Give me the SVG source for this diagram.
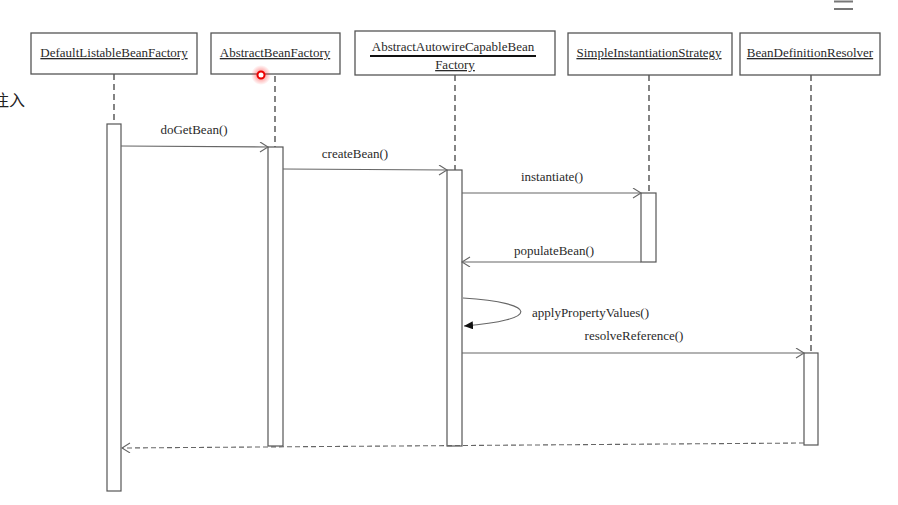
<svg xmlns="http://www.w3.org/2000/svg" width="898" height="505" viewBox="0 0 898 505">
<style>
.box{fill:#fff;stroke:#555;stroke-width:1.3}
.life{stroke:#333;stroke-width:1.2;stroke-dasharray:6 4;fill:none}
.act{fill:#fff;stroke:#555;stroke-width:1.2}
.msg{stroke:#666;stroke-width:1.1;fill:none}
.ret{stroke:#666;stroke-width:1.1;fill:none;stroke-dasharray:5 3}
text{font-family:"Liberation Serif","Times New Roman",serif;font-size:13px;fill:#2a2a2a}
.lbl{text-anchor:middle;text-decoration:underline}
.m{text-anchor:middle}
</style>
<defs>
<marker id="open" markerUnits="userSpaceOnUse" markerWidth="12" markerHeight="12" refX="9" refY="5" orient="auto">
<path d="M1,0 L9,5 L1,10" fill="none" stroke="#666" stroke-width="1.1"/>
</marker>
<marker id="filled" markerUnits="userSpaceOnUse" markerWidth="12" markerHeight="10" refX="9" refY="4" orient="auto">
<path d="M0,0 L9,4 L0,8 z" fill="#111"/>
</marker>
<radialGradient id="glow">
<stop offset="0" stop-color="#ff3030" stop-opacity="0.7"/>
<stop offset="1" stop-color="#ff3030" stop-opacity="0"/>
</radialGradient>
</defs>

<g id="connectors">
<line class="life" x1="114" y1="74" x2="114" y2="124"/>
<line class="life" x1="275" y1="76" x2="275" y2="147"/>
<line class="life" x1="455" y1="75" x2="455" y2="170"/>
<line class="life" x1="649" y1="75" x2="649" y2="193"/>
<line class="life" x1="811" y1="75" x2="811" y2="353"/>
</g>

<g id="n-dlbf">
<rect class="box" x="31" y="33" width="166" height="41"/>
<text class="lbl" x="114" y="57">DefaultListableBeanFactory</text>
<rect class="act" x="107" y="124" width="14" height="367"/>
</g>
<g id="n-abf">
<rect class="box" x="211" y="33" width="129" height="41"/>
<text class="lbl" x="275" y="57">AbstractBeanFactory</text>
<rect class="act" x="268" y="147" width="15" height="299"/>
</g>
<g id="n-aacbf">
<rect class="box" x="355" y="31" width="200" height="44"/>
<text class="m" x="453" y="51">AbstractAutowireCapableBean</text>
<line x1="370" y1="56" x2="536" y2="56" stroke="#111" stroke-width="2"/>
<text class="lbl" x="455" y="69">Factory</text>
<rect class="act" x="447" y="170" width="15" height="276"/>
</g>
<g id="n-sis">
<rect class="box" x="568" y="33" width="164" height="42"/>
<text class="lbl" x="649" y="57">SimpleInstantiationStrategy</text>
<rect class="act" x="641" y="193" width="15" height="69"/>
</g>
<g id="n-bdr">
<rect class="box" x="740" y="33" width="140" height="42"/>
<text class="lbl" x="810" y="57">BeanDefinitionResolver</text>
<rect class="act" x="804" y="353" width="14" height="92"/>
</g>

<g id="messages">
<line class="msg" x1="121" y1="146" x2="268" y2="147" marker-end="url(#open)"/>
<text class="m" x="194" y="134">doGetBean()</text>
<line class="msg" x1="283" y1="169" x2="447" y2="170" marker-end="url(#open)"/>
<text class="m" x="355" y="158">createBean()</text>
<line class="msg" x1="462" y1="193" x2="641" y2="193" marker-end="url(#open)"/>
<text class="m" x="552" y="181">instantiate()</text>
<line class="msg" x1="641" y1="262" x2="462" y2="262" marker-end="url(#open)"/>
<text class="m" x="554" y="255">populateBean()</text>
<path class="msg" d="M463,298 C540,303 540,320 464,326" stroke="#111" marker-end="url(#filled)"/>
<text x="532" y="317">applyPropertyValues()</text>
<line class="msg" x1="462" y1="353" x2="804" y2="353" marker-end="url(#open)"/>
<text class="m" x="634" y="340">resolveReference()</text>
<line class="ret" x1="804" y1="443" x2="122" y2="448" marker-end="url(#open)"/>
</g>

<text x="-7" y="106" style="font-family:'Noto Sans CJK SC','Noto Sans',sans-serif;font-size:16px;fill:#222">注入</text>
<line x1="834" y1="1.5" x2="853" y2="1.5" stroke="#777" stroke-width="2"/>
<line x1="834" y1="9" x2="853" y2="9" stroke="#777" stroke-width="2"/>
<circle cx="261" cy="75" r="10" fill="url(#glow)"/>
<circle cx="261" cy="75" r="3.5" fill="#fff" stroke="#e00" stroke-width="2"/>
</svg>
